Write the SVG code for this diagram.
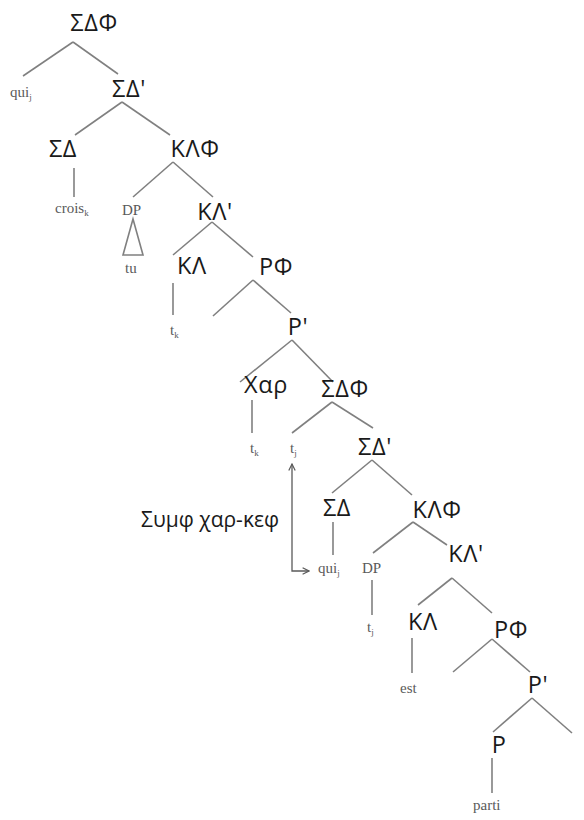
<svg xmlns="http://www.w3.org/2000/svg" width="584" height="820" viewBox="0 0 584 820">
<style>
.g{font-family:"Open Sans","Noto Sans","DejaVu Sans",sans-serif;font-size:23.5px;letter-spacing:0.6px;fill:#1a1a1a;text-anchor:middle}
.lbl{font-family:"Open Sans","Noto Sans","DejaVu Sans",sans-serif;font-size:21px;fill:#1a1a1a;text-anchor:end}
.s{font-family:"Liberation Serif","Times New Roman",serif;font-size:15px;fill:#5a5a5a}
.sub{font-size:9px}
.e line,.e polygon{stroke:#808080;stroke-width:1.6;fill:none}
.arr{stroke:#5a5a5a;stroke-width:1.3;fill:none}
</style>
<defs>
<marker id="ah" viewBox="0 0 10 10" refX="9" refY="5" markerWidth="8" markerHeight="8" orient="auto-start-reverse" markerUnits="userSpaceOnUse">
<path d="M1,1 L9,5 L1,9" fill="none" stroke="#5a5a5a" stroke-width="1.5"/>
</marker>
</defs>
<rect width="584" height="820" fill="#fff"/>
<g id="connectors" class="e">
<line x1="73" y1="42" x2="23" y2="76"/>
<line x1="73" y1="42" x2="118" y2="74"/>
<line x1="122" y1="102" x2="75" y2="135"/>
<line x1="122" y1="102" x2="170" y2="135"/>
<line x1="74" y1="168" x2="74" y2="197"/>
<line x1="173" y1="162" x2="133" y2="197"/>
<line x1="173" y1="162" x2="213" y2="197"/>
<polygon points="133,219 123,255 143,255"/>
<line x1="212" y1="222" x2="173" y2="255"/>
<line x1="212" y1="222" x2="253" y2="257"/>
<line x1="173" y1="283" x2="173" y2="315"/>
<line x1="253" y1="280" x2="213" y2="316"/>
<line x1="253" y1="280" x2="291" y2="313"/>
<line x1="292" y1="340" x2="240" y2="382"/>
<line x1="292" y1="340" x2="333" y2="382"/>
<line x1="252" y1="400" x2="252" y2="433"/>
<line x1="332" y1="402" x2="292" y2="433"/>
<line x1="332" y1="402" x2="373" y2="428"/>
<line x1="372" y1="460" x2="332" y2="493"/>
<line x1="372" y1="460" x2="412" y2="495"/>
<line x1="333" y1="522" x2="333" y2="555"/>
<line x1="413" y1="522" x2="373" y2="553"/>
<line x1="413" y1="522" x2="447" y2="545"/>
<line x1="372" y1="580" x2="372" y2="615"/>
<line x1="452" y1="578" x2="418" y2="605"/>
<line x1="452" y1="578" x2="492" y2="613"/>
<line x1="412" y1="638" x2="412" y2="673"/>
<line x1="492" y1="639" x2="453" y2="672"/>
<line x1="492" y1="639" x2="530" y2="672"/>
<line x1="532" y1="698" x2="493" y2="732"/>
<line x1="532" y1="698" x2="572" y2="733"/>
<line x1="492" y1="758" x2="492" y2="793"/>
<path class="arr" d="M292,464 V571 H309" marker-start="url(#ah)" marker-end="url(#ah)"/>
</g>
<g id="n-SDF1"><text class="g" x="94" y="31">ΣΔΦ</text></g>
<g id="n-quij1"><text class="s" x="10" y="97">qui<tspan class="sub" dy="3">j</tspan></text></g>
<g id="n-SDb1"><text class="g" x="129" y="97">ΣΔ'</text></g>
<g id="n-SD1"><text class="g" x="63" y="157">ΣΔ</text></g>
<g id="n-crois"><text class="s" x="55" y="213">crois<tspan class="sub" dy="3">k</tspan></text></g>
<g id="n-KLF1"><text class="g" x="195" y="157">ΚΛΦ</text></g>
<g id="n-DP1"><text class="s" x="122" y="215">DP</text></g>
<g id="n-tu"><text class="s" x="125" y="273">tu</text></g>
<g id="n-KLb1"><text class="g" x="215" y="220">ΚΛ'</text></g>
<g id="n-KL1"><text class="g" x="192" y="274">ΚΛ</text></g>
<g id="n-tk1"><text class="s" x="170" y="335">t<tspan class="sub" dy="3">k</tspan></text></g>
<g id="n-RF1"><text class="g" x="276" y="275">ΡΦ</text></g>
<g id="n-Rb1"><text class="g" x="298" y="335">Ρ'</text></g>
<g id="n-Xar"><text class="g" x="266" y="393">Χαρ</text></g>
<g id="n-tk2"><text class="s" x="250" y="453">t<tspan class="sub" dy="3">k</tspan></text></g>
<g id="n-SDF2"><text class="g" x="345" y="397">ΣΔΦ</text></g>
<g id="n-tj2"><text class="s" x="290" y="453">t<tspan class="sub" dy="3">j</tspan></text></g>
<g id="n-SDb2"><text class="g" x="375" y="455">ΣΔ'</text></g>
<g id="n-SD2"><text class="g" x="337" y="516">ΣΔ</text></g>
<g id="n-quij2"><text class="s" x="318" y="573">qui<tspan class="sub" dy="3">j</tspan></text></g>
<g id="n-KLF2"><text class="g" x="437" y="518">ΚΛΦ</text></g>
<g id="n-DP2"><text class="s" x="362" y="573">DP</text></g>
<g id="n-tj3"><text class="s" x="367" y="632">t<tspan class="sub" dy="3">j</tspan></text></g>
<g id="n-KLb2"><text class="g" x="466" y="562">ΚΛ'</text></g>
<g id="n-KL2"><text class="g" x="423" y="630">ΚΛ</text></g>
<g id="n-est"><text class="s" x="400" y="693">est</text></g>
<g id="n-RF2"><text class="g" x="511" y="638">ΡΦ</text></g>
<g id="n-Rb2"><text class="g" x="538" y="693">Ρ'</text></g>
<g id="n-R2"><text class="g" x="499" y="753">Ρ</text></g>
<g id="n-parti"><text class="s" x="473" y="810">parti</text></g>
<g id="label-agree"><text class="lbl" x="279" y="527">Συμφ χαρ-κεφ</text></g>
</svg>
